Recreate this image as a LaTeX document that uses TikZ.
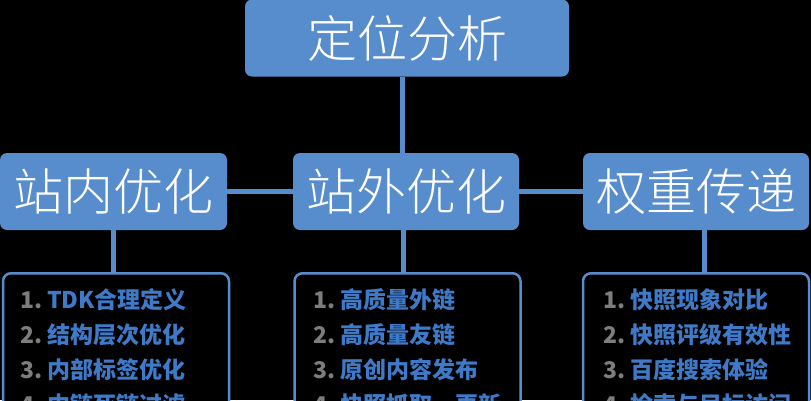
\documentclass[tikz,border=0pt]{standalone}
\usepackage{fontspec}
\setmainfont{Noto Sans CJK SC}
\newfontfamily\lightcjk{Noto Sans CJK SC Light}
\definecolor{boxblue}{RGB}{88,141,205}
\definecolor{txtblue}{RGB}{62,122,200}
\definecolor{numgray}{RGB}{125,125,125}
\begin{document}
\begin{tikzpicture}[x=1pt,y=-1pt,
 hdr/.style={fill=boxblue, rounded corners=7pt, text=white, font=\lightcjk\fontsize{50}{50}\selectfont, inner sep=0pt, minimum height=77pt},
 link/.style={draw=boxblue, line width=5pt},
 listbox/.style={draw=boxblue, line width=2.5pt, rounded corners=8pt, fill=black, minimum width=226pt, minimum height=170pt, anchor=north},
 num/.style={text=numgray, font=\bfseries\fontsize{23}{23}\selectfont, anchor=west, inner sep=0pt},
 item/.style={text=txtblue, font=\bfseries\fontsize{23}{23}\selectfont, anchor=west, inner sep=0pt}]
\fill[black] (0,0) rectangle (811,400);
\useasboundingbox (0,0) rectangle (811,400);
\clip (0,0) rectangle (811,400);
% headers
\node[hdr, minimum width=324pt] (top) at (407,38) {定位分析};
\node[hdr, minimum width=227pt] (left) at (113.5,191.5) {站内优化};
\node[hdr, minimum width=226pt] (mid) at (406,191.5) {站外优化};
\node[hdr, minimum width=226pt] (right) at (696,191.5) {权重传递};
% list boxes
\node[listbox] (llist) at (116,272) {};
\node[listbox] (mlist) at (407.5,272) {};
\node[listbox] (rlist) at (696,272) {};
% connectors
\draw[link] ([xshift=-5pt]top.south) -- ([xshift=-5pt]top.south |- mid.north);
\draw[link] (left.east) -- (mid.west);
\draw[link] (mid.east) -- (right.west);
\draw[link] (left.south) -- (left.south |- llist.north);
\draw[link] ([xshift=-3pt]mid.south) -- ([xshift=-3pt]mid.south |- mlist.north);
\draw[link] ([xshift=8pt]right.south) -- ([xshift=8pt]right.south |- rlist.north);
% left items
\node[num] (ln1) at (20,300) {1.};
\node[item] (lt1) at (47,300) {TDK合理定义};
\node[num] (ln2) at (20,335) {2.};
\node[item] (lt2) at (47,335) {结构层次优化};
\node[num] (ln3) at (20,370) {3.};
\node[item] (lt3) at (47,370) {内部标签优化};
\node[num] (ln4) at (20,405) {4.};
\node[item] (lt4) at (47,405) {内链死链过滤};
% middle items
\node[num] (mn1) at (313,300) {1.};
\node[item] (mt1) at (340,300) {高质量外链};
\node[num] (mn2) at (313,335) {2.};
\node[item] (mt2) at (340,335) {高质量友链};
\node[num] (mn3) at (313,370) {3.};
\node[item] (mt3) at (340,370) {原创内容发布};
\node[num] (mn4) at (313,405) {4.};
\node[item] (mt4) at (340,405) {快照抓取、更新};
% right items
\node[num] (rn1) at (603,300) {1.};
\node[item] (rt1) at (630,300) {快照现象对比};
\node[num] (rn2) at (603,335) {2.};
\node[item] (rt2) at (630,335) {快照评级有效性};
\node[num] (rn3) at (603,370) {3.};
\node[item] (rt3) at (630,370) {百度搜索体验};
\node[num] (rn4) at (603,405) {4.};
\node[item] (rt4) at (630,405) {检索与目标访问};
\end{tikzpicture}
\end{document}
